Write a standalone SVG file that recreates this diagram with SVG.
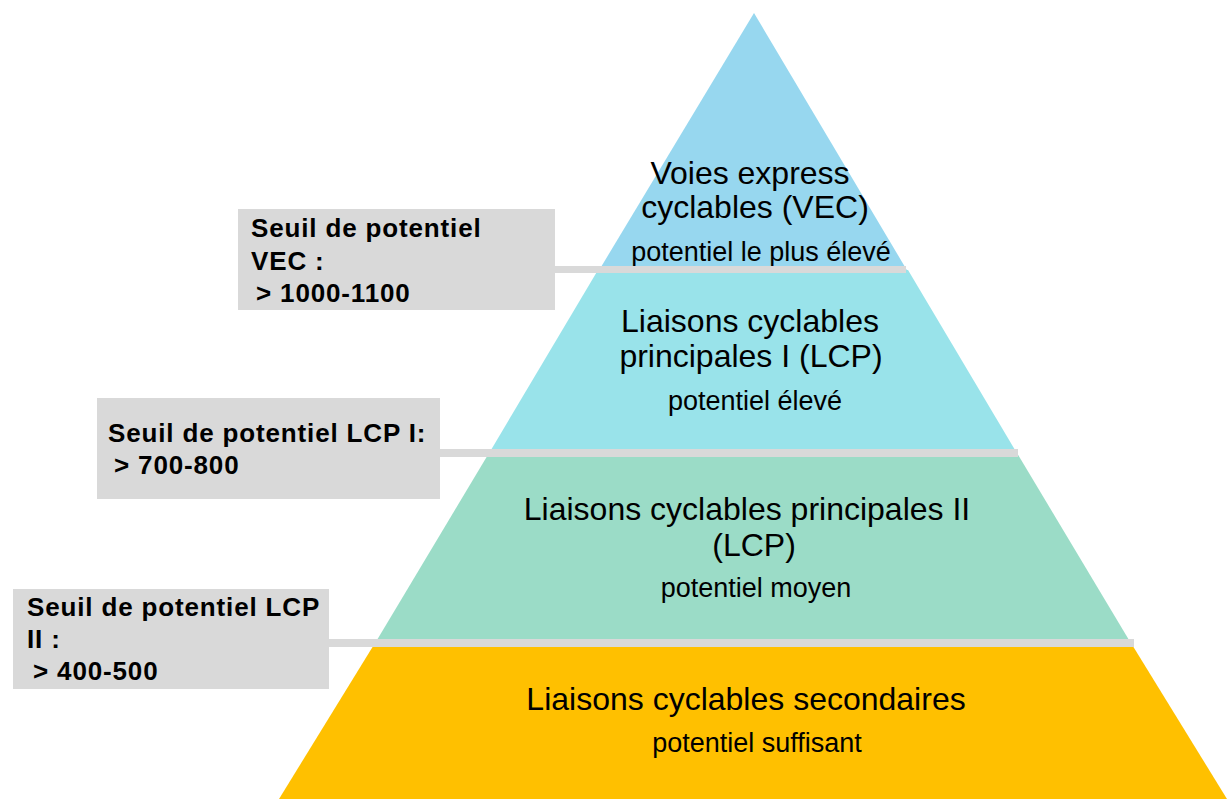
<svg xmlns="http://www.w3.org/2000/svg" width="1229" height="807" viewBox="0 0 1229 807">
<style>
.box{fill:#d9d9d9}
.sep{fill:#d9d9d9}
.bt{font-family:"Liberation Sans",Arial,sans-serif;font-weight:bold;font-size:26px;letter-spacing:0.85px;fill:#000}
.tt{font-family:"Liberation Sans",Arial,sans-serif;font-size:32px;fill:#000;text-anchor:middle}
.st{font-family:"Liberation Sans",Arial,sans-serif;font-size:27px;fill:#000;text-anchor:middle}
</style>
<rect width="1229" height="807" fill="#fff"/>
<g id="level-vec">
<polygon points="754,13 598,272 908,272" fill="#97d7ef"/>
<text class="tt" x="750" y="184">Voies express</text>
<text class="tt" x="755" y="218">cyclables (VEC)</text>
<text class="st" x="761" y="261">potentiel le plus élevé</text>
</g>
<g id="level-lcp1">
<polygon points="598,270 908,270 1018,455 488,455" fill="#99e3ea"/>
<text class="tt" x="750" y="332">Liaisons cyclables</text>
<text class="tt" x="751" y="367">principales I (LCP)</text>
<text class="st" x="755" y="410">potentiel élevé</text>
</g>
<g id="level-lcp2">
<polygon points="489,453 1017,453 1132,645 374,645" fill="#9bdcc7"/>
<text class="tt" x="747" y="520">Liaisons cyclables principales II</text>
<text class="tt" x="754" y="556">(LCP)</text>
<text class="st" x="756" y="597">potentiel moyen</text>
</g>
<g id="level-secondaire">
<polygon points="375,643 1131,643 1227,799 279,799" fill="#ffc000"/>
<text class="tt" x="746" y="710">Liaisons cyclables secondaires</text>
<text class="st" x="757" y="752">potentiel suffisant</text>
</g>
<g id="connectors">
<rect class="sep" x="554" y="266" width="352" height="7"/>
<rect class="sep" x="439" y="449" width="579" height="8"/>
<rect class="sep" x="328" y="639" width="806" height="8"/>
</g>
<g id="seuil-vec">
<rect class="box" x="238" y="209" width="317" height="101"/>
<text class="bt" x="251" y="237">Seuil de potentiel</text>
<text class="bt" x="251" y="270">VEC :</text>
<text class="bt" x="256" y="302">&gt; 1000-1100</text>
</g>
<g id="seuil-lcp1">
<rect class="box" x="97" y="398" width="343" height="101"/>
<text class="bt" x="108" y="442">Seuil de potentiel LCP I:</text>
<text class="bt" x="114" y="474">&gt; 700-800</text>
</g>
<g id="seuil-lcp2">
<rect class="box" x="13" y="589" width="316" height="100"/>
<text class="bt" x="27" y="616">Seuil de potentiel LCP</text>
<text class="bt" x="27" y="648">II :</text>
<text class="bt" x="33" y="680">&gt; 400-500</text>
</g>
</svg>
